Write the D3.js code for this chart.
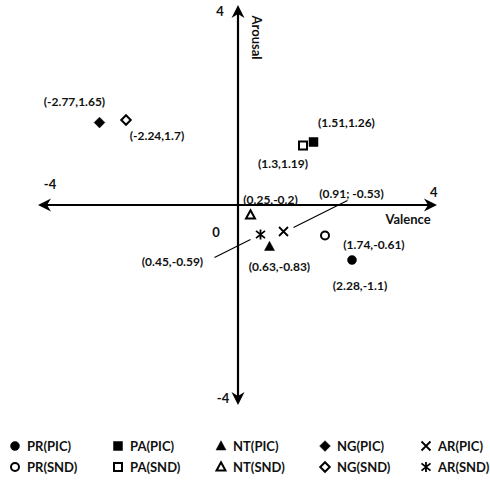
<!DOCTYPE html>
<html><head><meta charset="utf-8">
<script src="https://cdn.jsdelivr.net/npm/d3@7"></script>
<style>body{margin:0;background:#fff}text{font-family:Lato,"Open Sans",sans-serif;font-weight:bold;fill:#111}</style>
</head><body><svg id="c" width="490" height="480"></svg>
<script>
const names = ["PR(PIC)","PA(PIC)","NT(PIC)","NG(PIC)","AR(PIC)","PR(SND)","PA(SND)","NT(SND)","NG(SND)","AR(SND)"];
const valence = [2.28,1.51,0.63,-2.77,0.91,1.74,1.3,0.25,-2.24,0.45];
const arousal = [-1.1,1.26,-0.83,1.65,-0.53,-0.61,1.19,-0.2,1.7,-0.59];
const pointLabels = ["(2.28,-1.1)","(1.51,1.26)","(0.63,-0.83)","(-2.77,1.65)","(0.91; -0.53)","(1.74,-0.61)","(1.3,1.19)","(0.25,-0.2)","(-2.24,1.7)","(0.45,-0.59)"];
const shapes = ["circle","square","triangle","diamond","x","circle","square","triangle","diamond","asterisk"];
const filled = [true,true,true,true,false,false,false,false,false,false];
const axisTicks = [-4,0,4];

const svg = d3.select("#c");
const x = d3.scaleLinear().domain([-4,4]).range([38,438]);
const y = d3.scaleLinear().domain([-4,4]).range([405,5]);

function shapePath(s, r){
  switch(s){
    case "circle": return `M${r},0A${r},${r} 0 1,1 ${-r},0A${r},${r} 0 1,1 ${r},0Z`;
    case "square": return `M${-r},${-r}H${r}V${r}H${-r}Z`;
    case "triangle": return `M0,${-r*1.05}L${r},${r*0.8}L${-r},${r*0.8}Z`;
    case "diamond": return `M0,${-r*1.25}L${r*1.25},0L0,${r*1.25}L${-r*1.25},0Z`;
    case "x": return `M${-r},${-r}L${r},${r}M${r},${-r}L${-r},${r}`;
    case "asterisk": return `M${-r},${-r*0.8}L${r},${r*0.8}M${r},${-r*0.8}L${-r},${r*0.8}M0,${-r*1.1}L0,${r*1.1}`;
  }
}
function drawSym(g, i, cx, cy){
  const s = shapes[i];
  const sizes = {circle:4.5, square:4.5, triangle:5, diamond:4.3, x:5, asterisk:5};
  const r = sizes[s];
  const stroke = (s==="x"||s==="asterisk")?1.8:2;
  g.append("path").attr("d", shapePath(s, filled[i]? r : r-0.5))
    .attr("transform",`translate(${cx},${cy})`)
    .attr("fill", (s==="x"||s==="asterisk") ? "none" : (filled[i] ? "#000" : "#fff"))
    .attr("stroke","#000").attr("stroke-width", filled[i] && s!=="x" ? 0.5 : stroke)
    .attr("stroke-linejoin","miter");
}

// axes
const ax = svg.append("g");
const cx0 = x(0), cy0 = y(0);
ax.append("line").attr("x1",x(-4)+2).attr("x2",x(4)-6).attr("y1",cy0).attr("y2",cy0).attr("stroke","#000").attr("stroke-width",2.2);
ax.append("line").attr("x1",cx0).attr("x2",cx0).attr("y1",y(4)+6).attr("y2",y(-4)-6).attr("stroke","#000").attr("stroke-width",2.2);
function arrow(tx, ty, ang){
  ax.append("path").attr("d","M0,0L-13,-6.5L-9,0L-13,6.5Z").attr("fill","#000")
    .attr("transform",`translate(${tx},${ty}) rotate(${ang})`);
}
arrow(x(4)-1, cy0, 0);
arrow(x(-4), cy0, 180);
arrow(cx0, y(4), -90);
arrow(cx0, y(-4), 90);

ax.append("text").attr("x",x(axisTicks[2])-8).attr("y",cy0-8).attr("font-size",13).text(axisTicks[2]);
ax.append("text").attr("x",x(axisTicks[0])+12).attr("y",cy0-16).attr("text-anchor","middle").attr("font-size",13).text(axisTicks[0]);
ax.append("text").attr("x",cx0-18).attr("y",y(4)+11).attr("text-anchor","middle").attr("font-size",13).text(axisTicks[2]);
ax.append("text").attr("x",cx0-15).attr("y",y(-4)-2).attr("text-anchor","middle").attr("font-size",13).text(axisTicks[0]);
ax.append("text").attr("x",cx0-22).attr("y",cy0+32).attr("text-anchor","middle").attr("font-size",13).text(axisTicks[1]);
ax.append("text").attr("x",x(3.4)).attr("y",cy0+19).attr("text-anchor","middle").attr("font-size",13).text("Valence");
ax.append("text").attr("transform",`translate(${cx0+14},${y(3.35)}) rotate(90)`).attr("text-anchor","middle").attr("font-size",13).text("Arousal");

// leader lines
const lead = svg.append("g").attr("stroke","#000").attr("stroke-width",1.2);
lead.append("line").attr("x1",x(valence[4])+10).attr("y1",y(arousal[4])-4).attr("x2",x(valence[4])+64).attr("y2",y(arousal[4])-31);
lead.append("line").attr("x1",x(valence[9])-10).attr("y1",y(arousal[9])+5).attr("x2",x(valence[9])-46).attr("y2",y(arousal[9])+23);

// points
const pts = svg.append("g");
valence.forEach((v,i)=>drawSym(pts, i, x(v), y(arousal[i])));

// point labels (offsets in px)
const off = [[8,26],[33,-19],[10,20],[-25,-21],[68,-38],[49,9],[-20,18],[20,-15],[31,16],[-88,27]];
const lbl = svg.append("g");
pointLabels.forEach((t,i)=>{
  lbl.append("text").attr("x",x(valence[i])+off[i][0]).attr("y",y(arousal[i])+off[i][1]+4)
    .attr("text-anchor","middle").attr("font-size",12).text(t);
});

// legend
const lg = svg.append("g");
const colX = [15,118,221,325,426];
const rowY = [446,467];
names.forEach((n,i)=>{
  const c = i%5, r = Math.floor(i/5);
  drawSym(lg, i, colX[c], rowY[r]);
  lg.append("text").attr("x",colX[c]+12).attr("y",rowY[r]+4.5).attr("font-size",13).text(n);
});
</script></body></html>
